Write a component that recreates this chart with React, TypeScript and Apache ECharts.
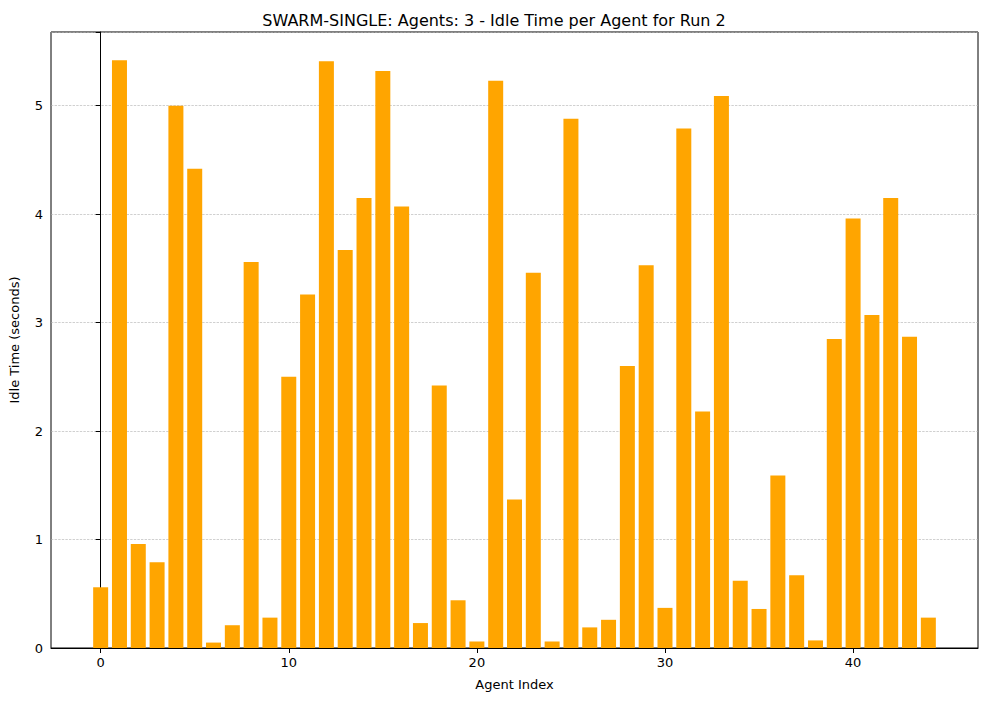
import React, { useEffect, useRef } from 'react';
import * as echarts from 'echarts';

const agentIndex: number[] = Array.from({ length: 45 }, (_, i) => i);
const idleTimes: number[] = [
  0.56, 5.42, 0.96, 0.79, 5.0, 4.42, 0.05, 0.21, 3.56, 0.28,
  2.5, 3.26, 5.41, 3.67, 4.15, 5.32, 4.07, 0.23, 2.42, 0.44,
  0.06, 5.23, 1.37, 3.46, 0.06, 4.88, 0.19, 0.26, 2.6, 3.53,
  0.37, 4.79, 2.18, 5.09, 0.62, 0.36, 1.59, 0.67, 0.07, 2.85,
  3.96, 3.07, 4.15, 2.87, 0.28,
];
const xTicks: number[] = [0, 10, 20, 30, 40];

const font = 'DejaVu Sans';

const App: React.FC = () => {
  const chartRef = useRef<HTMLDivElement | null>(null);

  useEffect(() => {
    document.body.style.margin = '0';
    if (!chartRef.current) return;
    const chart = echarts.init(chartRef.current, undefined, { renderer: 'svg' });

    chart.setOption({
      animation: false,
      backgroundColor: '#fff',
      textStyle: { fontFamily: font },
      title: {
        text: 'SWARM-SINGLE: Agents: 3 - Idle Time per Agent for Run 2',
        left: 'center',
        top: 7,
        textStyle: { fontFamily: font, fontSize: 16, fontWeight: 'normal', color: '#000' },
      },
      grid: {
        left: 48, right: 10, top: 32, bottom: 53,
        show: true, borderColor: '#000', borderWidth: 1,
      },
      xAxis: {
        type: 'value',
        min: -2.64,
        max: 46.64,
        name: 'Agent Index',
        nameLocation: 'middle',
        nameGap: 30,
        nameTextStyle: { fontFamily: font, fontSize: 13, color: '#000' },
        axisLine: { show: true, lineStyle: { color: '#000' } },
        axisTick: { show: true, customValues: xTicks, length: 5, lineStyle: { color: '#000' } },
        axisLabel: { customValues: xTicks, fontFamily: font, fontSize: 13, color: '#000' },
        splitLine: { show: false },
      },
      yAxis: {
        type: 'value',
        min: 0,
        max: 5.68,
        interval: 1,
        name: 'Idle Time (seconds)',
        nameLocation: 'middle',
        nameGap: 30,
        nameTextStyle: { fontFamily: font, fontSize: 13, color: '#000' },
        axisLine: { show: true, lineStyle: { color: '#000' } },
        axisTick: { show: true, length: 5, lineStyle: { color: '#000' } },
        axisLabel: {
          fontFamily: font, fontSize: 13, color: '#000',
          formatter: (v: number) => (Number.isInteger(v) ? String(v) : ''),
        },
        splitLine: { show: true, lineStyle: { color: '#b0b0b0', type: 'dashed', width: 0.6 } },
      },
      series: [
        {
          type: 'bar',
          data: agentIndex.map((i) => [i, idleTimes[i]]),
          barWidth: 15,
          itemStyle: { color: '#ffa500' },
        },
      ],
    });

    return () => {
      chart.dispose();
    };
  }, []);

  return <div ref={chartRef} style={{ width: 988, height: 701 }} />;
};

export default App;
